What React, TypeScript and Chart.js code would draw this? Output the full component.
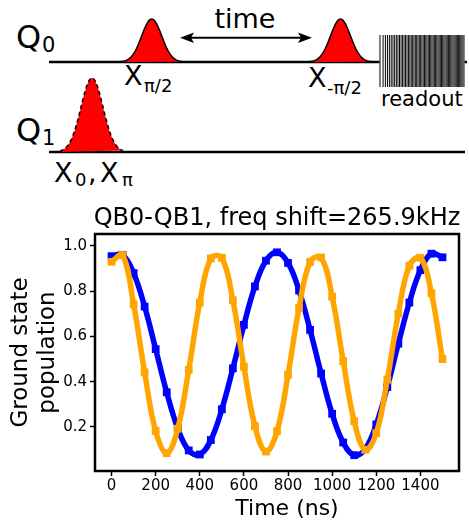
import React, { useEffect, useRef } from 'react';
import { Chart, registerables } from 'chart.js';

Chart.register(...registerables);

// ---- data ----
const TIME_NS = [0, 50, 100, 150, 200, 250, 300, 350, 400, 450, 500, 550, 600, 650, 700, 750, 800, 850, 900, 950, 1000, 1050, 1100, 1150, 1200, 1250, 1300, 1350, 1400, 1450, 1500];
const BLUE_POP = [0.955, 0.961, 0.880, 0.732, 0.544, 0.353, 0.194, 0.096, 0.078, 0.142, 0.278, 0.459, 0.651, 0.821, 0.935, 0.972, 0.925, 0.803, 0.629, 0.436, 0.258, 0.131, 0.075, 0.103, 0.211, 0.376, 0.568, 0.750, 0.893, 0.966, 0.950];
const ORANGE_POP = [0.930, 0.960, 0.742, 0.441, 0.182, 0.084, 0.192, 0.453, 0.750, 0.945, 0.948, 0.760, 0.466, 0.203, 0.091, 0.181, 0.431, 0.726, 0.929, 0.949, 0.776, 0.491, 0.225, 0.099, 0.172, 0.409, 0.701, 0.913, 0.948, 0.791, 0.500];
const X_TICKS = [0, 200, 400, 600, 800, 1000, 1200, 1400];
const Y_TICKS = [0.2, 0.4, 0.6, 0.8, 1.0];
const CHART_TITLE = 'QB0-QB1, freq shift=265.9kHz';
const X_TITLE = 'Time (ns)';
const Y_TITLE = ['Ground state', 'population'];

const FONT = 'DejaVu Sans';

function gaussPath(cx: number, base: number, h: number, sigma: number, half: number) {
  let d = `M ${cx - half} ${base}`;
  const n = 80;
  for (let i = 0; i <= n; i++) {
    const dx = -half + (2 * half * i) / n;
    d += ` L ${(cx + dx).toFixed(2)} ${(base - h * Math.exp(-(dx * dx) / (2 * sigma * sigma))).toFixed(2)}`;
  }
  return d;
}

function Diagram() {
  const stripes: number[] = [];
  const N = 62;
  for (let k = 0; k <= N; k++) stripes.push(380 + 84 * Math.pow(k / N, 0.8));
  const txt = { fontFamily: FONT, fill: '#000' } as any;
  return (
    <svg width={469} height={190} style={{ position: 'absolute', left: 0, top: 0 }}>
      <defs>
        <linearGradient id="fadeH" x1="0" y1="0" x2="1" y2="0">
          <stop offset="0" stopColor="#fff" stopOpacity="0" />
          <stop offset="1" stopColor="#fff" stopOpacity="0.12" />
        </linearGradient>
      </defs>
      {/* Q0 line */}
      <line x1={49} y1={62} x2={467} y2={62} stroke="#000" strokeWidth={2.5} />
      {/* Q1 line */}
      <line x1={49} y1={152} x2={465} y2={152} stroke="#000" strokeWidth={2.5} />
      {/* pulses on Q0 */}
      <path d={gaussPath(151.7, 62, 43, 10, 31)} fill="#ff0000" stroke="#000" strokeWidth={1.5} />
      <path d={gaussPath(340.5, 62, 43, 10, 31)} fill="#ff0000" stroke="#000" strokeWidth={1.5} />
      {/* pulse on Q1 */}
      <path d={gaussPath(92, 152, 74, 11, 31)} fill="#ff0000" stroke="#000" strokeWidth={1.5} strokeDasharray="4 3" />
      {/* readout */}
      <rect x={379.5} y={35} width={85} height={52} fill="#fff" />
      {stripes.map((x, i) => (
        <line key={i} x1={x} y1={35} x2={x} y2={87} stroke="#000" strokeWidth={1} />
      ))}
      <rect x={379.5} y={35} width={85} height={52} fill="url(#fadeH)" />
      {/* time arrow */}
      <line x1={190} y1={37.7} x2={302} y2={37.7} stroke="#000" strokeWidth={2} />
      <polygon points="180,37.7 194,32.5 191,37.7 194,42.9" fill="#000" />
      <polygon points="312,37.7 298,32.5 301,37.7 298,42.9" fill="#000" />
      <text x={245} y={28} fontSize={27} textAnchor="middle" style={txt}>time</text>
      {/* qubit labels */}
      <text x={16} y={48} fontSize={32} style={txt}>Q</text>
      <text x={42} y={52} fontSize={21} style={txt}>0</text>
      <text x={16} y={141} fontSize={32} style={txt}>Q</text>
      <text x={42} y={145} fontSize={21} style={txt}>1</text>
      {/* pulse labels */}
      <text x={124} y={85} fontSize={27} style={txt}>X</text>
      <text x={144} y={92} fontSize={18} style={txt}>π/2</text>
      <text x={308} y={87} fontSize={27} style={txt}>X</text>
      <text x={327} y={94} fontSize={18} style={txt}>-π/2</text>
      <text x={381} y={106} fontSize={21} style={txt}>readout</text>
      <text x={54} y={182} fontSize={27} style={txt}>X</text>
      <text x={75} y={186} fontSize={18} style={txt}>0</text>
      <text x={88} y={182} fontSize={27} style={txt}>,</text>
      <text x={100} y={182} fontSize={27} style={txt}>X</text>
      <text x={122} y={186} fontSize={18} style={txt}>π</text>
    </svg>
  );
}

const boxPlugin = {
  id: 'plotBox',
  afterDraw(chart: any) {
    const { ctx, chartArea: a } = chart;
    ctx.save();
    ctx.strokeStyle = '#000';
    ctx.lineWidth = 2.5;
    ctx.strokeRect(a.left, a.top, a.right - a.left, a.bottom - a.top);
    ctx.fillStyle = '#000';
    ctx.textAlign = 'center';
    ctx.textBaseline = 'middle';
    const cx = (a.left + a.right) / 2;
    ctx.font = `24px "${FONT}"`;
    ctx.fillText(CHART_TITLE, cx, a.top - 15);
    ctx.font = `22px "${FONT}"`;
    ctx.fillText(X_TITLE, cx + 10, a.bottom + 38);
    ctx.restore();
  },
};

export default function App() {
  const canvasRef = useRef<HTMLCanvasElement | null>(null);

  useEffect(() => {
    const canvas = canvasRef.current;
    if (!canvas) return;
    const blue = TIME_NS.map((t, i) => ({ x: t, y: BLUE_POP[i] }));
    const orange = TIME_NS.map((t, i) => ({ x: t, y: ORANGE_POP[i] }));
    const tickFont = { family: FONT, size: 15 };
    const chart = new Chart(canvas, {
      type: 'line',
      data: {
        datasets: [
          {
            label: 'QB0',
            data: blue,
            borderColor: '#0000ff',
            backgroundColor: '#0000ff',
            borderWidth: 5.5,
            tension: 0.4,
            pointStyle: 'rect',
            pointRadius: 5.5,
            pointBorderWidth: 0,
            pointBackgroundColor: '#0000ff',
            order: 2,
          },
          {
            label: 'QB1',
            data: orange,
            borderColor: '#ffa500',
            backgroundColor: '#ffa500',
            borderWidth: 5.5,
            tension: 0.4,
            pointStyle: 'rect',
            pointRadius: 5.5,
            pointBorderWidth: 0,
            pointBackgroundColor: '#ffa500',
            order: 1,
          },
        ],
      },
      options: {
        responsive: false,
        animation: false,
        layout: { padding: { left: 0, right: 10, top: 44, bottom: 0 } },
        plugins: {
          legend: { display: false },
          tooltip: { enabled: false },
          title: { display: false },
        },
        scales: {
          x: {
            type: 'linear',
            min: -75,
            max: 1575,
            afterBuildTicks: (s: any) => {
              s.ticks = X_TICKS.map((v) => ({ value: v }));
            },
            afterFit: (s: any) => {
              s.height = 49;
            },
            ticks: {
              color: '#000',
              font: tickFont,
              padding: 1,
              maxRotation: 0,
              autoSkip: false,
              callback: (v: any) => String(v),
            },
            grid: { display: true, drawOnChartArea: false, drawTicks: true, tickLength: 5, tickColor: '#000', tickWidth: 1.5 },
            border: { display: false },
            title: { display: false, text: X_TITLE },
          },
          y: {
            type: 'linear',
            min: 0.005,
            max: 1.053,
            afterBuildTicks: (s: any) => {
              s.ticks = Y_TICKS.map((v) => ({ value: v }));
            },
            afterFit: (s: any) => {
              s.width = 95;
            },
            ticks: {
              color: '#000',
              font: tickFont,
              padding: 3,
              autoSkip: false,
              callback: (v: any) => Number(v).toFixed(1),
            },
            grid: { display: true, drawOnChartArea: false, drawTicks: true, tickLength: 5, tickColor: '#000', tickWidth: 1.5 },
            border: { display: false },
            title: {
              display: true,
              text: Y_TITLE,
              color: '#000',
              font: { family: FONT, size: 23, lineHeight: 1.15 },
              padding: { top: 8, bottom: 0 },
            },
          },
        },
      },
      plugins: [boxPlugin],
    } as any);
    return () => chart.destroy();
  }, []);

  return (
    <div style={{ position: 'absolute', left: 0, top: 0, width: 469, height: 520, background: '#fff', overflow: 'hidden' }}>
      <Diagram />
      <div style={{ position: 'absolute', left: 0, top: 190, width: 469, height: 330 }}>
        <canvas ref={canvasRef} width={469} height={330} style={{ width: 469, height: 330, display: 'block' }} />
      </div>
    </div>
  );
}
